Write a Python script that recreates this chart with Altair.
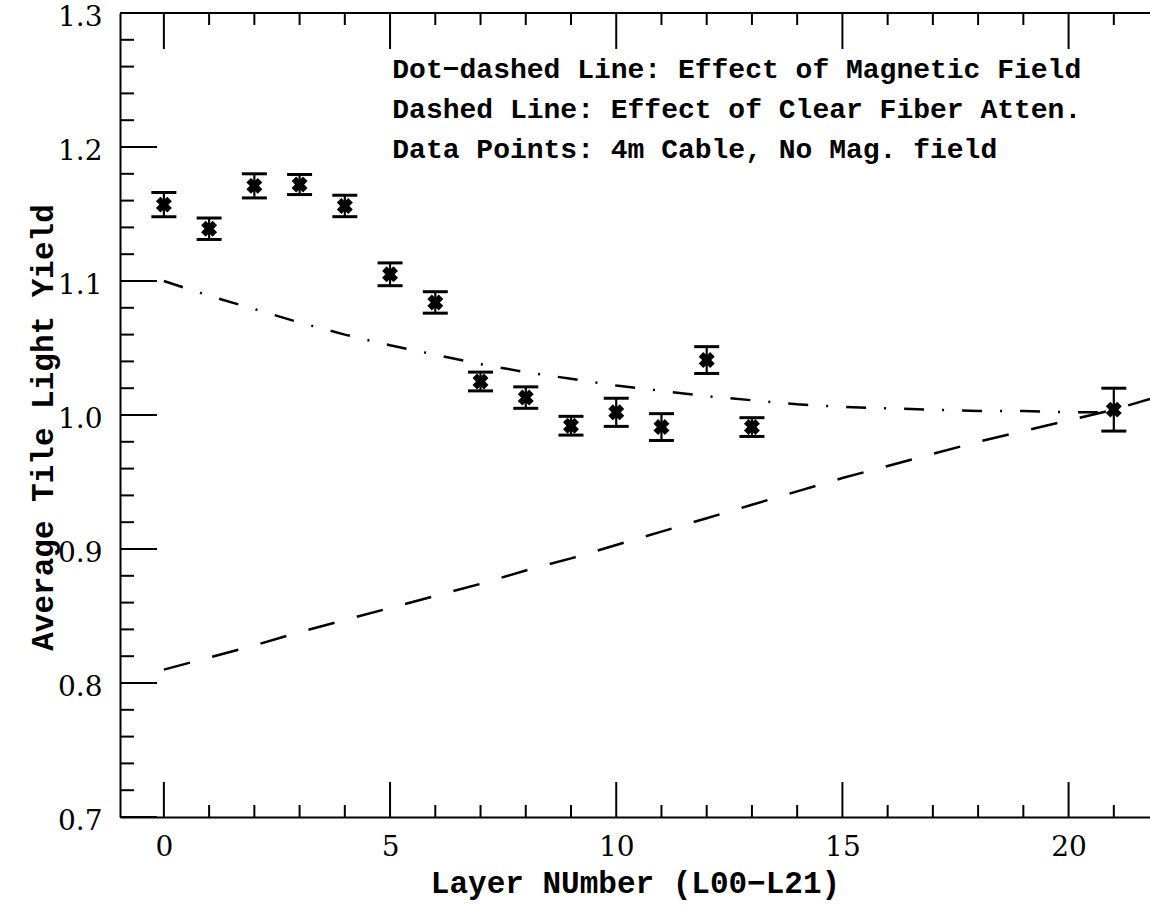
import altair as alt
import pandas as pd

# Measured tile light yield per layer, with statistical errors
layers = [0, 1, 2, 3, 4, 5, 6, 7, 8, 9, 10, 11, 12, 13, 21]
yields = [1.157, 1.139, 1.171, 1.172, 1.156, 1.105, 1.084, 1.025, 1.013,
          0.992, 1.002, 0.991, 1.041, 0.991, 1.004]
errors = [0.009, 0.008, 0.009, 0.0075, 0.008, 0.0085, 0.008, 0.007, 0.008,
          0.007, 0.0105, 0.010, 0.010, 0.007, 0.016]

# Expected yield from the magnetic field effect (dot-dashed)
mag_x = [0, 1, 2, 3, 4, 5, 6, 7, 8, 9, 10, 11, 12, 13, 14, 15, 16, 17, 18, 19, 20, 21]
mag_y = [1.100, 1.089, 1.079, 1.069, 1.060, 1.052, 1.045, 1.038, 1.032, 1.027,
         1.022, 1.018, 1.014, 1.011, 1.008, 1.006, 1.005, 1.004, 1.003, 1.003,
         1.002, 1.002]

# Expected yield from clear fiber attenuation (dashed)
att_x = [0, 1, 2, 3, 4, 5, 6, 7, 8, 9, 10, 11, 12, 13, 14, 15, 16, 17, 18, 19,
         20, 21, 21.8]
att_y = [0.810, 0.819, 0.828, 0.838, 0.847, 0.856, 0.865, 0.874, 0.884, 0.893,
         0.903, 0.913, 0.923, 0.933, 0.943, 0.953, 0.962, 0.971, 0.980, 0.988,
         0.996, 1.004, 1.012]

y_major = [0.7, 0.8, 0.9, 1.0, 1.1, 1.2, 1.3]
y_minor = [round(0.7 + 0.02 * i, 2) for i in range(31)]
x_major = [0, 5, 10, 15, 20]
x_minor = list(range(0, 22))

notes = [
    "Dot\u2212dashed Line: Effect of Magnetic Field",
    "Dashed Line: Effect of Clear Fiber Atten.",
    "Data Points: 4m Cable, No Mag. field",
]

W, H = 1030, 804
MONO = "Liberation Mono"
SERIF = "DejaVu Serif"

xs = alt.Scale(domain=[-0.97, 21.8], nice=False, zero=False)
ys = alt.Scale(domain=[0.7, 1.3], nice=False, zero=False)

pts = pd.DataFrame({"layer": layers, "yield": yields, "err": errors})
pts["lo"] = pts["yield"] - pts["err"]
pts["hi"] = pts["yield"] + pts["err"]
mag = pd.DataFrame({"layer": mag_x, "yield": mag_y})
att = pd.DataFrame({"layer": att_x, "yield": att_y})

X = alt.X("layer:Q", scale=xs, axis=alt.Axis(
    values=x_major, labelPadding=16,
    title="Layer NUmber (L00\u2212L21)", titleY=66, titleBaseline="middle"))
Y = alt.Y("yield:Q", scale=ys, axis=alt.Axis(
    values=y_major, format=".1f", labelPadding=18, labelOffset=4,
    title="Average Tile Light Yield", titleX=-77, titleY=414,
    titleBaseline="middle"))

mag_line = alt.Chart(mag).mark_line(
    color="black", strokeWidth=2.5, strokeDash=[20, 18, 2, 18], clip=True
).encode(x=X, y=Y)
att_line = alt.Chart(att).mark_line(
    color="black", strokeWidth=2.5, strokeDash=[27, 23], clip=True
).encode(x=alt.X("layer:Q", scale=xs), y=alt.Y("yield:Q", scale=ys))

bars = alt.Chart(pts).mark_rule(color="black", strokeWidth=2.2).encode(
    x=alt.X("layer:Q", scale=xs), y=alt.Y("lo:Q", scale=ys), y2="hi:Q")
cap_lo = alt.Chart(pts).mark_tick(
    color="black", orient="horizontal", size=25, thickness=3, opacity=1
).encode(x=alt.X("layer:Q", scale=xs), y=alt.Y("lo:Q", scale=ys))
cap_hi = alt.Chart(pts).mark_tick(
    color="black", orient="horizontal", size=25, thickness=3, opacity=1
).encode(x=alt.X("layer:Q", scale=xs), y=alt.Y("hi:Q", scale=ys))
marks = alt.Chart(pts).mark_point(
    shape="cross", angle=45, filled=True, size=260, color="black", opacity=1
).encode(x=alt.X("layer:Q", scale=xs), y=alt.Y("yield:Q", scale=ys))

# Frame: top border line (left and bottom come from the axes)
top_line = alt.Chart(pd.DataFrame({"v": [1.3]})).mark_rule(
    color="black", strokeWidth=2
).encode(y=alt.Y("v:Q", scale=ys), x=alt.value(0), x2=alt.value(W))

# Inward tick marks on all visible sides
def yticks(vals, length):
    return alt.Chart(pd.DataFrame({"v": vals})).mark_rule(
        color="black", strokeWidth=2
    ).encode(y=alt.Y("v:Q", scale=ys), x=alt.value(0), x2=alt.value(length))

def xticks(vals, length, top):
    y0 = 0 if top else H
    y1 = length if top else H - length
    return alt.Chart(pd.DataFrame({"v": vals})).mark_rule(
        color="black", strokeWidth=2
    ).encode(x=alt.X("v:Q", scale=xs), y=alt.value(y0), y2=alt.value(y1))

x_minor_only = [v for v in x_minor if v not in x_major]
y_minor_only = [v for v in y_minor if round(v * 10, 6) != round(v * 10)]

ticks = [
    yticks(y_major, 37), yticks(y_minor_only, 14),
    xticks(x_major, 35, False), xticks(x_minor_only, 12, False),
    xticks(x_major, 36, True), xticks(x_minor_only, 12, True),
]

note = alt.Chart(pd.DataFrame({"a": [0]})).mark_text(
    text=notes, font=MONO, fontSize=28, fontWeight="bold", color="black",
    align="left", baseline="alphabetic", lineHeight=40
).encode(x=alt.datum(5.05, scale=xs), y=alt.datum(1.2515, scale=ys))

chart = alt.layer(
    mag_line, att_line, bars, cap_lo, cap_hi, marks, top_line, *ticks, note
).properties(
    width=W, height=H,
    padding={"left": 120, "top": 13, "right": 0, "bottom": 89},
    autosize=alt.AutoSizeParams(type="none"),
    background="white",
).configure_view(stroke=None).configure_axis(
    ticks=False, grid=False, domainWidth=2, domainColor="black",
    labelFont=SERIF, labelFontSize=28, labelColor="black", labelBound=False,
    labelFlush=False, labelOverlap=False,
    titleFont=MONO, titleFontSize=31, titleFontWeight="bold", titleColor="black",
)

chart.save("out.html", embed_options={"renderer": "svg", "actions": False})
